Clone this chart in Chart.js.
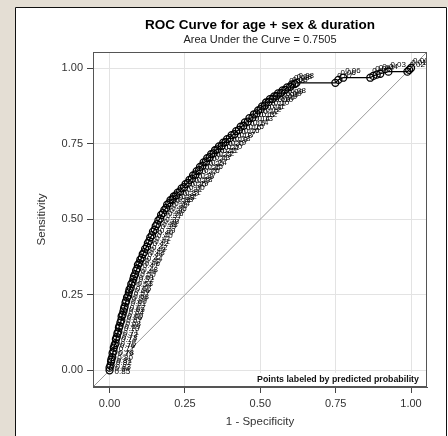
<!DOCTYPE html>
<html>
<head>
<meta charset="utf-8">
<script src="https://cdn.jsdelivr.net/npm/chart.js@4.4.1/dist/chart.umd.min.js"></script>
<style>
  html, body { margin: 0; padding: 0; background: #e4ded4; }
  #wrap { width: 448px; height: 436px; position: relative; }
</style>
</head>
<body>
<div id="wrap"><canvas id="roc" width="448" height="436"></canvas></div>
<script>
// ROC curve points: false positive rate (1 - specificity)
const fpr = [
  0.000, 0.000, 0.003, 0.005, 0.006, 0.009, 0.010, 0.013, 0.014, 0.017,
  0.020, 0.021, 0.024, 0.026, 0.029, 0.031, 0.033, 0.036, 0.039, 0.040,
  0.043, 0.046, 0.048, 0.050, 0.053, 0.055, 0.058, 0.062, 0.064, 0.066,
  0.070, 0.072, 0.076, 0.079, 0.081, 0.085, 0.088, 0.092, 0.094, 0.099,
  0.102,
  0.107, 0.110, 0.115, 0.118, 0.124, 0.127, 0.132, 0.135, 0.141, 0.144,
  0.150, 0.153, 0.158, 0.162, 0.168, 0.171, 0.177, 0.182, 0.188, 0.191,
  0.198, 0.202,
  0.209, 0.213, 0.221, 0.226, 0.234, 0.239, 0.247, 0.252, 0.260, 0.265,
  0.273, 0.277, 0.285, 0.289, 0.297, 0.300, 0.308, 0.312, 0.320, 0.324,
  0.332, 0.337,
  0.345, 0.350, 0.358, 0.363, 0.372, 0.377, 0.385, 0.390, 0.399, 0.405,
  0.414, 0.420, 0.429, 0.435, 0.444, 0.449, 0.459, 0.464, 0.474, 0.479,
  0.488, 0.493, 0.501, 0.506, 0.515, 0.519, 0.528, 0.532, 0.541, 0.546,
  0.554, 0.559, 0.569, 0.574, 0.583, 0.589, 0.599, 0.605, 0.614, 0.620,
  0.749, 0.759, 0.775, 0.865, 0.875, 0.886, 0.898, 0.925, 0.988, 0.994,
  1.000
];
// ROC curve points: true positive rate (sensitivity)
const tpr = [
  0.000, 0.009, 0.016, 0.029, 0.036, 0.044, 0.057, 0.063, 0.075, 0.084,
  0.090, 0.103, 0.111, 0.122, 0.128, 0.141, 0.147, 0.158, 0.166, 0.178,
  0.184, 0.195, 0.204, 0.211, 0.224, 0.230, 0.241, 0.247, 0.258, 0.267,
  0.273, 0.285, 0.291, 0.302, 0.311, 0.318, 0.330, 0.337, 0.349, 0.355,
  0.366,
  0.372, 0.384, 0.391, 0.402, 0.409, 0.421, 0.428, 0.440, 0.447, 0.459,
  0.465, 0.477, 0.484, 0.496, 0.502, 0.514, 0.520, 0.531, 0.537, 0.548,
  0.553, 0.563,
  0.566, 0.575, 0.579, 0.588, 0.592, 0.602, 0.606, 0.616, 0.620, 0.630,
  0.634, 0.645, 0.648, 0.659, 0.662, 0.673, 0.677, 0.688, 0.691, 0.702,
  0.705, 0.715,
  0.718, 0.728, 0.731, 0.741, 0.743, 0.753, 0.755, 0.765, 0.768, 0.778,
  0.781, 0.791, 0.795, 0.806, 0.809, 0.820, 0.823, 0.834, 0.836, 0.847,
  0.850, 0.860, 0.864, 0.873, 0.876, 0.886, 0.888, 0.897, 0.898, 0.906,
  0.908, 0.916, 0.918, 0.926, 0.928, 0.936, 0.938, 0.946, 0.947, 0.951,
  0.951, 0.961, 0.968, 0.968, 0.974, 0.978, 0.981, 0.988, 0.988, 0.994,
  1.000
];
// Predicted probability (cut-off) at each point
const prob = [
  0.85, 0.84, 0.83, 0.82, 0.81, 0.80, 0.79, 0.78, 0.77, 0.76,
  0.75, 0.74, 0.73, 0.72, 0.71, 0.70, 0.69, 0.68, 0.67, 0.66,
  0.65, 0.64, 0.63, 0.62, 0.61, 0.60, 0.59, 0.58, 0.57, 0.56,
  0.55, 0.54, 0.53, 0.52, 0.51, 0.50, 0.49, 0.48, 0.47, 0.46,
  0.45,
  0.44, 0.44, 0.43, 0.43, 0.42, 0.42, 0.41, 0.41, 0.40, 0.40,
  0.39, 0.39, 0.38, 0.38, 0.37, 0.37, 0.36, 0.36, 0.35, 0.35,
  0.34, 0.34,
  0.33, 0.33, 0.32, 0.32, 0.31, 0.31, 0.30, 0.30, 0.29, 0.29,
  0.28, 0.28, 0.27, 0.27, 0.26, 0.26, 0.25, 0.25, 0.24, 0.24,
  0.23, 0.23,
  0.22, 0.22, 0.21, 0.21, 0.20, 0.20, 0.19, 0.19, 0.18, 0.18,
  0.17, 0.17, 0.16, 0.16, 0.15, 0.15, 0.14, 0.14, 0.13, 0.13,
  0.12, 0.12, 0.12, 0.11, 0.11, 0.11, 0.10, 0.10, 0.10, 0.10,
  0.09, 0.09, 0.09, 0.09, 0.08, 0.08, 0.08, 0.08, 0.08, 0.08,
  0.07, 0.06, 0.06, 0.05, 0.05, 0.04, 0.04, 0.03, 0.02, 0.01,
  0.00
];
const tickValues = [0, 0.25, 0.5, 0.75, 1];
const axisMin = -0.055;
const axisMax = 1.053;

const titleText = 'ROC Curve for age + sex & duration';
const subtitleText = 'Area Under the Curve = 0.7505';
const xTitle = '1 - Specificity';
const yTitle = 'Sensitivity';
const noteText = 'Points labeled by predicted probability';

const FONT = "'Liberation Sans', Arial, sans-serif";

const rocPoints = fpr.map((x, i) => ({ x: x, y: tpr[i] }));
const diagonal = [{ x: axisMin, y: axisMin }, { x: axisMax, y: axisMax }];

// Page background, white panel and its frame
const panelPlugin = {
  id: 'panel',
  beforeDraw(chart) {
    const ctx = chart.ctx;
    ctx.save();
    ctx.fillStyle = '#e4ded4';
    ctx.fillRect(0, 0, chart.width, chart.height);
    ctx.fillStyle = '#ffffff';
    ctx.fillRect(15, 7, chart.width - 15, chart.height - 7);
    ctx.strokeStyle = '#111111';
    ctx.lineWidth = 1;
    ctx.beginPath();
    ctx.moveTo(15.5, chart.height);
    ctx.lineTo(15.5, 7.5);
    ctx.lineTo(446.5, 7.5);
    ctx.lineTo(446.5, chart.height);
    ctx.stroke();
    ctx.restore();
  }
};

// Predicted-probability labels beside each ROC point
const pointLabelPlugin = {
  id: 'pointLabels',
  afterDatasetsDraw(chart) {
    const ctx = chart.ctx;
    const area = chart.chartArea;
    const meta = chart.getDatasetMeta(0);
    ctx.save();
    ctx.beginPath();
    ctx.rect(area.left, area.top, area.right - area.left, area.bottom - area.top);
    ctx.clip();
    ctx.font = '8px ' + FONT;
    ctx.fillStyle = '#000000';
    ctx.textBaseline = 'middle';
    ctx.textAlign = 'left';
    meta.data.forEach((pt, i) => {
      const txt = prob[i].toFixed(2);
      if (tpr[i] >= 0.93) {
        ctx.fillText(txt, pt.x + 2, pt.y - 7);
      } else {
        ctx.fillText(txt, pt.x + 5, pt.y + 1);
      }
    });
    ctx.restore();
  }
};

// Titles, axis titles, frame and note inset
const textPlugin = {
  id: 'texts',
  afterDraw(chart) {
    const ctx = chart.ctx;
    const a = chart.chartArea;
    const cx = (a.left + a.right) / 2;
    ctx.save();
    // frame around the plot area
    ctx.strokeStyle = '#555555';
    ctx.lineWidth = 1;
    ctx.strokeRect(Math.round(a.left) + 0.5, Math.round(a.top) + 0.5,
      Math.round(a.right - a.left) - 1, Math.round(a.bottom - a.top) - 1);

    // note inset at bottom right
    ctx.fillStyle = '#ffffff';
    ctx.fillRect(253, 373, a.right - 254, a.bottom - 374);
    ctx.fillStyle = '#111111';
    ctx.font = 'bold 8.8px ' + FONT;
    ctx.textAlign = 'center';
    ctx.textBaseline = 'middle';
    ctx.fillText(noteText, 338, 380);

    ctx.fillStyle = '#000000';
    ctx.font = 'bold 13.5px ' + FONT;
    ctx.fillText(titleText, cx, 25);
    ctx.fillStyle = '#222222';
    ctx.font = '11px ' + FONT;
    ctx.fillText(subtitleText, cx, 40);

    ctx.fillStyle = '#333333';
    ctx.font = '11.5px ' + FONT;
    ctx.fillText(xTitle, cx, 422);
    ctx.translate(42, (a.top + a.bottom) / 2);
    ctx.rotate(-Math.PI / 2);
    ctx.fillText(yTitle, 0, 0);
    ctx.restore();
  }
};

function axisOptions(fitProp, fitSize) {
  return {
    type: 'linear',
    min: axisMin,
    max: axisMax,
    afterBuildTicks(axis) {
      axis.ticks = tickValues.map(v => ({ value: v }));
    },
    afterFit(axis) {
      axis[fitProp] = fitSize;
    },
    ticks: {
      callback: v => Number(v).toFixed(2),
      font: { family: FONT, size: 11 },
      color: '#333333',
      padding: 4
    },
    grid: {
      color: '#e3e3e3',
      lineWidth: 1,
      drawTicks: true,
      tickLength: 6,
      tickColor: '#444444',
      tickWidth: 1
    },
    border: { display: true, color: '#555555', width: 1 }
  };
}

new Chart(document.getElementById('roc'), {
  type: 'scatter',
  data: {
    datasets: [
      {
        label: 'ROC',
        data: rocPoints,
        showLine: true,
        borderColor: '#000000',
        borderWidth: 1.2,
        pointRadius: 3.5,
        pointBorderWidth: 1.3,
        pointBorderColor: '#000000',
        pointBackgroundColor: 'rgba(0,0,0,0)',
        order: 1
      },
      {
        label: 'Chance',
        data: diagonal,
        showLine: true,
        borderColor: '#9a9a9a',
        borderWidth: 1,
        pointRadius: 0,
        order: 2
      }
    ]
  },
  options: {
    responsive: false,
    animation: false,
    devicePixelRatio: 1,
    layout: { padding: { top: 52, right: 21, left: 0, bottom: 0 } },
    plugins: {
      legend: { display: false },
      tooltip: { enabled: false },
      title: { display: false }
    },
    scales: {
      x: axisOptions('height', 49),
      y: axisOptions('width', 93)
    }
  },
  plugins: [panelPlugin, pointLabelPlugin, textPlugin]
});
</script>
</body>
</html>
